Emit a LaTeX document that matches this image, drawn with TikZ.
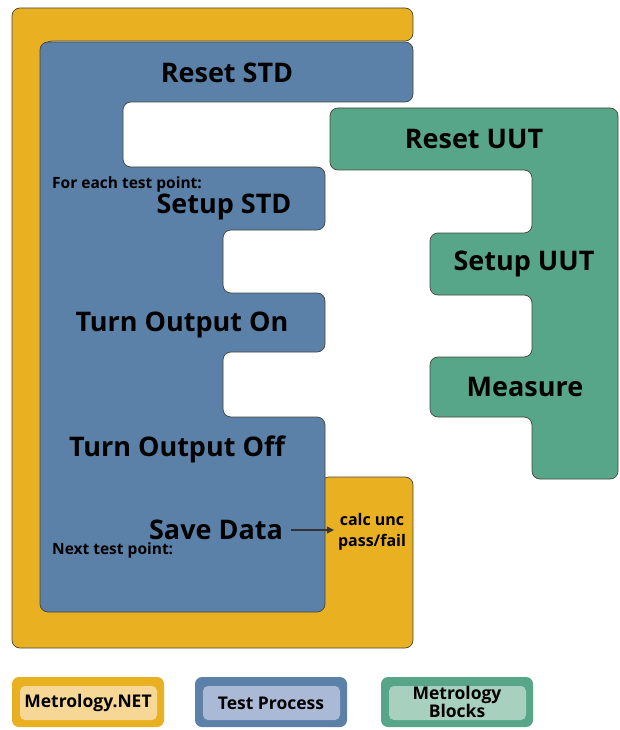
\documentclass[tikz,border=0pt]{standalone}
\usepackage{fontspec}
\setmainfont{Open Sans}
\usetikzlibrary{arrows.meta}
\definecolor{ylw}{RGB}{233,177,34}
\definecolor{blu}{RGB}{91,129,168}
\definecolor{grn}{RGB}{87,166,138}
\definecolor{lylw}{RGB}{247,215,150}
\definecolor{lblu}{RGB}{170,186,214}
\definecolor{lgrn}{RGB}{168,208,190}
\definecolor{edge}{RGB}{70,70,60}
\tikzset{
  blockshape/.style={draw=edge, line width=0.7pt, rounded corners=8pt},
  big/.style={font=\bfseries\fontsize{27}{30}\selectfont, text=black, inner sep=0pt},
  small/.style={font=\bfseries\fontsize{15.5}{17}\selectfont, text=black, inner sep=0pt},
  leg/.style={font=\bfseries\fontsize{17.5}{15.5}\selectfont, text=black, inner sep=0pt, align=center},
  outerbox/.style={draw=none, rounded corners=7pt},
  innerbox/.style={draw=none, rounded corners=5pt},
}
\begin{document}
\begin{tikzpicture}[x=1pt,y=-1pt]
\useasboundingbox (0,0) rectangle (619,730);
% Metrology.NET frame
\draw[blockshape, fill=ylw] (12,8) -- (413,8) -- (413,41) -- (44,41) -- (44,606) -- (321,606) -- (321,477) -- (413,477) -- (413,648) -- (12,648) -- cycle;
% Test process
\draw[blockshape, fill=blu] (40,42) -- (413,42) -- (413,102) -- (123,102) -- (123,167) -- (325,167) -- (325,230) -- (223,230) -- (223,293) -- (325,293) -- (325,352) -- (223,352) -- (223,417) -- (325,417) -- (325,612) -- (40,612) -- cycle;
% Metrology blocks
\draw[blockshape, fill=grn] (330,108) -- (618,108) -- (618,479) -- (532,479) -- (532,417) -- (430,417) -- (430,357) -- (532,357) -- (532,295) -- (430,295) -- (430,233) -- (532,233) -- (532,170) -- (330,170) -- cycle;
% texts
\node[big] (resetstd) at (227,73) {Reset STD};
\node[small, anchor=west] (foreach) at (52,184) {For each test point:};
\node[big] (setupstd) at (224,207) {Setup STD};
\node[big] (outon) at (182,325) {Turn Output On};
\node[big] (outoff) at (177,449) {Turn Output Off};
\node[big] (save) at (216,530) {Save Data};
\node[small, anchor=west] (next) at (52,550) {Next test point:};
\node[small, align=center, font=\bfseries\fontsize{16}{21}\selectfont] (calc) at (372,532) {calc unc\\pass/fail};
\draw[-{Triangle[length=7pt,width=7pt]}, line width=1.3pt, draw=black!80, shorten >=4pt] (save.east) ++(8,0) coordinate (sa) -- (calc.west |- sa);
\node[big] (resetuut) at (474,139) {Reset UUT};
\node[big] (setupuut) at (524,264) {Setup UUT};
\node[big] (measure) at (525,387) {Measure};
% legend
\fill[ylw, outerbox] (12,677) rectangle (164,727);
\fill[lylw, innerbox] (20,686) rectangle (157,720);
\node[leg] (l1) at (88,703) {Metrology.NET};
\fill[blu, outerbox] (195,677) rectangle (347,727);
\fill[lblu, innerbox] (203,686) rectangle (340,720);
\node[leg] (l2) at (271,703) {Test Process};
\fill[grn, outerbox] (381,677) rectangle (533,727);
\fill[lgrn, innerbox] (389,686) rectangle (526,720);
\node[leg] (l3) at (457,702) {Metrology\\Blocks};
\end{tikzpicture}
\end{document}
